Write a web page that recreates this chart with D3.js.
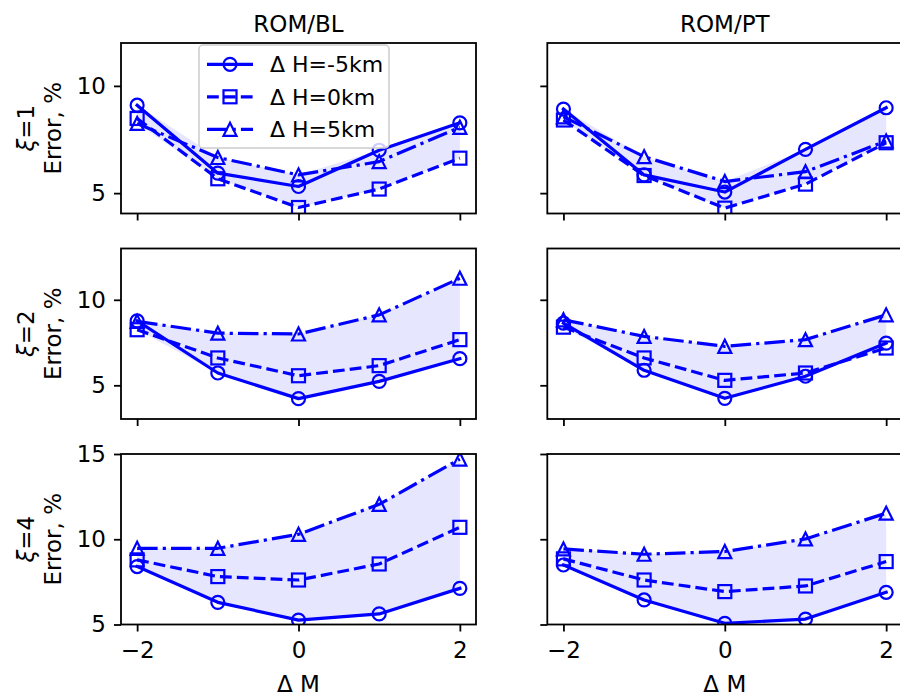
<!DOCTYPE html>
<html>
<head>
<meta charset="utf-8">
<script src="https://cdn.jsdelivr.net/npm/d3@7"></script>
<style>
  body { margin: 0; background: #fff; }
  svg { display: block; font-family: 'DejaVu Sans', sans-serif; }
</style>
</head>
<body>
<svg id="drawing_region"></svg>
<script>
// x values and labels
const dM = [-2, -1, 0, 1, 2];
const columnTitles = ['ROM/BL', 'ROM/PT'];
const xiValues = [1, 2, 4];
const seriesNames = ['Δ H=-5km', 'Δ H=0km', 'Δ H=5km'];
const xTicks = [-2, 0, 2];
const yTicksByRow = [[5, 10], [5, 10], [5, 10, 15]];
const yDomainByRow = [[4.05, 12], [3.03, 13], [5, 15]];

// error values, one array per series: [ΔH=-5, ΔH=0, ΔH=5]
const blXi1 = [
    [9.1, 5.93, 5.31, 7.0, 8.28],
    [8.48, 5.67, 4.33, 5.19, 6.63],
    [8.25, 6.66, 5.85, 6.47, 8.07]
];
const ptXi1 = [
    [8.92, 5.85, 5.05, 7.04, 8.98],
    [8.41, 5.82, 4.3, 5.42, 7.35],
    [8.56, 6.7, 5.54, 6.0, 7.43]
];
const blXi2 = [
    [8.77, 5.72, 4.22, 5.23, 6.56],
    [8.25, 6.6, 5.56, 6.15, 7.67],
    [8.74, 8.05, 8.0, 9.12, 11.26]
];
const ptXi2 = [
    [8.64, 5.88, 4.24, 5.53, 7.47],
    [8.4, 6.6, 5.29, 5.72, 7.18],
    [8.83, 7.86, 7.28, 7.67, 9.12]
];
const blXi4 = [
    [8.4, 6.3, 5.26, 5.62, 7.12],
    [8.79, 7.81, 7.61, 8.55, 10.7],
    [9.47, 9.47, 10.29, 12.05, 14.7]
];
const ptXi4 = [
    [8.49, 6.44, 5.07, 5.32, 6.89],
    [8.85, 7.61, 6.93, 7.26, 8.69],
    [9.43, 9.12, 9.28, 10.02, 11.53]
];

const panels = [
    [blXi1, ptXi1],
    [blXi2, ptXi2],
    [blXi4, ptXi4]
];

const config = {
    width: 900,
    height: 698,
    colLeft: [121, 547.3],
    colWidth: 355,
    rowTop: [43, 248.5, 454],
    rowHeight: 170.5,
    fontSize: 23,
    legendFontSize: 22,
    lineWidth: 3.2,
    markerSize: 13,
    color: '#0000ff'
};

const dashes = ['none', '11.8,5.1', '20.5,5.1,3.2,5.1'];
const markerTypes = ['circle', 'square', 'triangle'];

const svg = d3.select('#drawing_region')
    .attr('width', config.width)
    .attr('height', config.height);

function drawMarker(g, type, cx, cy) {
    const s = config.markerSize;
    let m;
    if (type === 'circle') {
        m = g.append('circle').attr('cx', cx).attr('cy', cy).attr('r', s / 2);
    } else if (type === 'square') {
        m = g.append('rect').attr('x', cx - s / 2).attr('y', cy - s / 2)
            .attr('width', s).attr('height', s);
    } else {
        m = g.append('path')
            .attr('d', `M${cx},${cy - s / 2}L${cx - s / 2},${cy + s / 2}L${cx + s / 2},${cy + s / 2}Z`);
    }
    m.attr('fill', 'none')
        .attr('stroke', config.color)
        .attr('stroke-width', 2.2)
        .attr('stroke-linejoin', 'miter');
}

panels.forEach((row, ri) => {
    row.forEach((series, ci) => {
        const left = config.colLeft[ci];
        const top = config.rowTop[ri];
        const w = config.colWidth;
        const h = config.rowHeight;

        const x = d3.scaleLinear().domain([-2.2, 2.2]).range([0, w]);
        const y = d3.scaleLinear().domain(yDomainByRow[ri]).range([h, 0]);

        const g = svg.append('g').attr('transform', `translate(${left},${top})`);
        const clipId = `clip-${ri}-${ci}`;
        g.append('clipPath').attr('id', clipId)
            .append('rect').attr('width', w).attr('height', h);

        const plot = g.append('g').attr('clip-path', `url(#${clipId})`);

        // shaded envelope between the lowest and highest curve
        const env = dM.map((d, i) => ({
            x: d,
            lo: d3.min(series, s => s[i]),
            hi: d3.max(series, s => s[i])
        }));
        plot.append('path')
            .datum(env)
            .attr('d', d3.area().x(d => x(d.x)).y0(d => y(d.lo)).y1(d => y(d.hi)))
            .attr('fill', '#e6e6ff');

        const line = d3.line().x((d, i) => x(dM[i])).y(d => y(d));
        series.forEach((vals, si) => {
            plot.append('path')
                .datum(vals)
                .attr('d', line)
                .attr('fill', 'none')
                .attr('stroke', config.color)
                .attr('stroke-width', config.lineWidth)
                .attr('stroke-dasharray', dashes[si])
                .attr('stroke-linejoin', 'round')
                .attr('stroke-linecap', si === 0 ? 'square' : 'butt');
            vals.forEach((v, i) => drawMarker(plot, markerTypes[si], x(dM[i]), y(v)));
        });

        // axes
        const yAxis = d3.axisLeft(y).tickValues(yTicksByRow[ri])
            .tickSize(7).tickSizeOuter(0).tickPadding(8)
            .tickFormat(ci === 0 ? d3.format('d') : () => '');
        const ya = g.append('g').call(yAxis);
        const xAxis = d3.axisBottom(x).tickValues(xTicks)
            .tickSize(7).tickSizeOuter(0).tickPadding(10)
            .tickFormat(ri === 2 ? d3.format('d') : () => '');
        const xa = g.append('g').attr('transform', `translate(0,${h})`).call(xAxis);

        [ya, xa].forEach(a => {
            a.select('.domain').remove();
            a.selectAll('line').attr('stroke', '#000').attr('stroke-width', 1.8);
            a.selectAll('text').attr('fill', '#000')
                .style('font-family', "'DejaVu Sans', sans-serif")
                .style('font-size', config.fontSize + 'px');
        });

        g.append('rect')
            .attr('width', w).attr('height', h)
            .attr('fill', 'none')
            .attr('stroke', '#000')
            .attr('stroke-width', 1.8);

        if (ri === 0) {
            svg.append('text')
                .attr('x', left + w / 2).attr('y', 31.5)
                .attr('text-anchor', 'middle')
                .style('font-size', config.fontSize + 'px')
                .text(columnTitles[ci]);
        }
        if (ri === 2) {
            svg.append('text')
                .attr('x', left + w / 2).attr('y', 692)
                .attr('text-anchor', 'middle')
                .style('font-size', config.fontSize + 'px')
                .text('Δ M');
        }
        if (ci === 0) {
            const lab = svg.append('g')
                .attr('transform', `translate(0,${top + h / 2}) rotate(-90)`);
            const t1 = lab.append('text')
                .attr('x', 0).attr('y', 34)
                .attr('text-anchor', 'middle')
                .style('font-size', config.fontSize + 'px');
            t1.append('tspan').style('font-style', 'italic').text('ξ');
            t1.append('tspan').text('=' + xiValues[ri]);
            lab.append('text')
                .attr('x', 0).attr('y', 61)
                .attr('text-anchor', 'middle')
                .style('font-size', config.fontSize + 'px')
                .text('Error, %');
        }
    });
});

// legend in the first panel
const legend = svg.append('g');
legend.append('rect')
    .attr('x', 199).attr('y', 45)
    .attr('width', 190).attr('height', 103)
    .attr('rx', 4)
    .attr('fill', '#fff').attr('fill-opacity', 0.8)
    .attr('stroke', '#cccccc').attr('stroke-width', 1.5);

seriesNames.forEach((name, si) => {
    const cy = 64.3 + si * 32.5;
    legend.append('line')
        .attr('x1', 207).attr('x2', 253)
        .attr('y1', cy).attr('y2', cy)
        .attr('stroke', config.color)
        .attr('stroke-width', config.lineWidth)
        .attr('stroke-dasharray', dashes[si]);
    drawMarker(legend, markerTypes[si], 230, cy);
    legend.append('text')
        .attr('x', 270).attr('y', cy + 8)
        .style('font-size', config.legendFontSize + 'px')
        .text(name);
});
</script>
</body>
</html>
